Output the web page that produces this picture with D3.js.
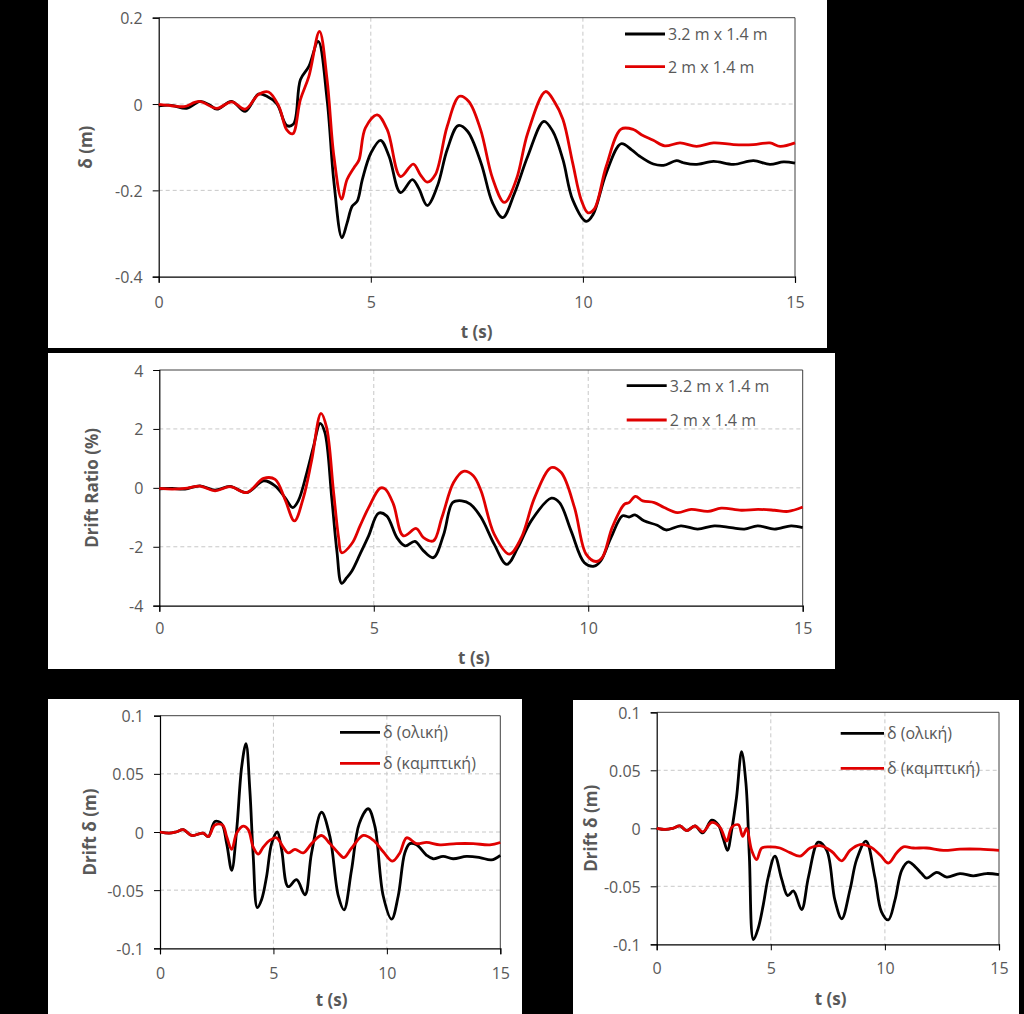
<!DOCTYPE html>
<html><head><meta charset="utf-8">
<script src="https://cdn.jsdelivr.net/npm/d3@7"></script>
<style>
html,body{margin:0;padding:0;background:#000;}
svg{display:block;}
text{font-family:"Open Sans",sans-serif;}
</style></head>
<body>
<svg id="c" width="1024" height="1014"></svg>
<script>
// ---------- DATA ----------
const xTicks = [0, 5, 10, 15];
const xTitle = "t (s)";

// Panel 1: δ (m)
const p1Title = "δ (m)";
const p1Ticks = [0.2, 0, -0.2, -0.4];
const p1Legend = ["3.2 m x 1.4 m", "2 m x 1.4 m"];
const p1BlackT = [0,0.3,0.66,0.98,1.2,1.37,1.72,2.04,2.35,2.55,2.79,3.02,3.18,3.34,3.54,3.76,3.97,4.13,4.32,4.44,4.56,4.68,4.8,5.0,5.23,5.43,5.7,5.98,6.13,6.33,6.57,6.8,7.06,7.28,7.6,7.87,8.11,8.39,8.7,9.08,9.29,9.53,9.76,10.08,10.24,10.55,10.9,11.15,11.34,11.66,11.9,12.21,12.37,12.65,13.08,13.55,14.02,14.41,14.73,15];
const p1BlackV = [-0.004,-0.003,-0.01,0.006,-0.002,-0.012,0.006,-0.017,0.023,0.018,0,-0.05,-0.046,0.056,0.087,0.145,0.01,-0.18,-0.31,-0.276,-0.237,-0.225,-0.175,-0.114,-0.084,-0.121,-0.205,-0.175,-0.195,-0.235,-0.19,-0.106,-0.05,-0.063,-0.137,-0.229,-0.263,-0.206,-0.121,-0.04,-0.063,-0.129,-0.222,-0.272,-0.256,-0.16,-0.092,-0.106,-0.121,-0.139,-0.142,-0.131,-0.136,-0.14,-0.133,-0.14,-0.131,-0.14,-0.134,-0.137];
const p1RedT = [0,0.3,0.6,0.95,1.37,1.72,2.04,2.35,2.59,2.83,3.02,3.16,3.34,3.54,3.79,3.97,4.13,4.31,4.44,4.6,4.72,4.87,5.15,5.39,5.7,6.0,6.17,6.33,6.52,6.8,7.09,7.31,7.59,7.87,8.15,8.43,8.7,9.12,9.33,9.53,9.76,9.96,10.12,10.27,10.55,10.9,11.19,11.38,11.66,11.93,12.29,12.68,13.08,13.55,14.02,14.41,14.65,15];
const p1RedV = [-0.001,-0.004,-0.006,0.006,-0.01,0.005,-0.012,0.022,0.028,-0.005,-0.06,-0.069,0.01,0.064,0.168,0.056,-0.121,-0.22,-0.175,-0.148,-0.13,-0.056,-0.025,-0.06,-0.168,-0.139,-0.164,-0.181,-0.164,-0.052,0.018,0.006,-0.06,-0.172,-0.228,-0.175,-0.067,0.029,0.005,-0.036,-0.137,-0.222,-0.252,-0.243,-0.144,-0.058,-0.059,-0.071,-0.084,-0.097,-0.09,-0.098,-0.09,-0.094,-0.094,-0.09,-0.098,-0.09];

// Panel 2: Drift Ratio (%)
const p2Title = "Drift Ratio (%)";
const p2Ticks = [4, 2, 0, -2, -4];
const p2Legend = ["3.2 m x 1.4 m", "2 m x 1.4 m"];
const p2BlackT = [0,0.3,0.6,0.95,1.3,1.65,2.04,2.43,2.7,2.93,3.11,3.24,3.44,3.59,3.75,3.86,4.02,4.14,4.25,4.37,4.49,4.68,4.88,5.11,5.3,5.54,5.73,5.96,6.16,6.39,6.63,6.84,7.05,7.25,7.5,7.81,8.1,8.36,8.67,9.14,9.33,9.6,9.91,10.14,10.29,10.53,10.8,10.95,11.09,11.3,11.61,11.81,12.16,12.55,12.94,13.33,13.64,13.95,14.34,14.73,15];
const p2BlackV = [-0.03,-0.02,-0.04,0.07,-0.08,0.05,-0.16,0.24,0.07,-0.33,-0.67,-0.44,0.52,1.37,2.19,1.88,-0.33,-2.14,-3.24,-3.05,-2.82,-2.25,-1.63,-0.86,-0.95,-1.69,-1.97,-1.82,-2.14,-2.37,-1.58,-0.5,-0.44,-0.55,-1.0,-1.92,-2.6,-2.03,-1.12,-0.35,-0.5,-1.46,-2.54,-2.66,-2.48,-1.69,-0.95,-0.99,-0.92,-1.12,-1.27,-1.43,-1.29,-1.4,-1.29,-1.35,-1.4,-1.29,-1.4,-1.29,-1.35];
const p2RedT = [0,0.3,0.6,0.95,1.3,1.65,2.04,2.43,2.7,2.93,3.15,3.36,3.55,3.77,3.9,4.06,4.18,4.25,4.49,4.68,4.88,5.15,5.27,5.46,5.69,5.99,6.16,6.39,6.59,6.86,7.09,7.32,7.5,7.81,8.16,8.44,8.75,9.14,9.37,9.68,9.95,10.18,10.33,10.56,10.84,10.95,11.1,11.27,11.54,11.77,12.08,12.4,12.79,13.1,13.57,13.96,14.34,14.66,15];
const p2RedV = [-0.02,-0.04,-0.02,0.06,-0.1,0.04,-0.16,0.32,0.29,-0.39,-1.12,-0.33,0.92,2.53,2.05,-0.1,-1.69,-2.2,-1.89,-1.29,-0.67,-0.01,-0.04,-0.56,-1.63,-1.38,-1.69,-1.8,-1.0,0.18,0.56,0.41,-0.1,-1.58,-2.25,-1.69,-0.33,0.69,0.52,-0.67,-2.25,-2.5,-2.36,-1.34,-0.56,-0.5,-0.29,-0.44,-0.5,-0.67,-0.84,-0.73,-0.8,-0.69,-0.76,-0.73,-0.76,-0.8,-0.65];

// Panel 3: Drift δ (m)
const p3Title = "Drift δ (m)";
const p3Ticks = [0.1, 0.05, 0, -0.05, -0.1];
const p3Legend = ["δ (ολική)", "δ (καμπτική)"];
const p3BlackT = [0,0.4,0.7,1.03,1.4,1.9,2.13,2.42,2.72,2.94,3.16,3.38,3.6,3.79,3.96,4.11,4.29,4.48,4.7,4.92,5.17,5.36,5.65,6.02,6.39,6.68,7.12,7.49,7.86,8.11,8.44,8.78,9.18,9.47,9.84,10.21,10.5,10.79,11.01,11.31,11.75,12.04,12.48,12.92,13.51,14.1,14.61,15];
const p3BlackV = [0,-0.001,0,0.002,-0.003,-0.001,-0.004,0.009,0.007,-0.01,-0.033,0.002,0.056,0.076,0.036,-0.021,-0.065,-0.058,-0.038,-0.01,0,-0.015,-0.047,-0.041,-0.054,-0.018,0.017,-0.004,-0.055,-0.067,-0.033,0.007,0.02,0.005,-0.055,-0.075,-0.055,-0.018,-0.01,-0.011,-0.02,-0.023,-0.021,-0.023,-0.021,-0.022,-0.024,-0.02];
const p3RedT = [0,0.4,0.7,1.03,1.4,1.9,2.13,2.42,2.76,2.94,3.16,3.38,3.67,3.89,4.11,4.33,4.55,4.85,5.14,5.43,5.65,5.95,6.31,6.68,7.12,7.49,7.86,8.11,8.44,8.96,9.4,9.84,10.25,10.57,10.87,11.31,11.75,12.34,13.07,13.8,14.54,15];
const p3RedV = [0,-0.001,0,0.002,-0.003,-0.001,-0.004,0.006,0.006,-0.004,-0.015,-0.001,0.005,0.002,-0.013,-0.019,-0.013,-0.007,-0.005,-0.013,-0.018,-0.015,-0.018,-0.01,-0.003,-0.01,-0.018,-0.022,-0.014,-0.003,-0.007,-0.017,-0.025,-0.018,-0.005,-0.01,-0.009,-0.011,-0.01,-0.01,-0.011,-0.009];

// Panel 4: Drift δ (m)
const p4Title = "Drift δ (m)";
const p4Ticks = [0.1, 0.05, 0, -0.05, -0.1];
const p4Legend = ["δ (ολική)", "δ (καμπτική)"];
const p4BlackT = [0,0.4,0.7,1.02,1.31,1.68,2.02,2.41,2.7,2.92,3.1,3.29,3.5,3.72,3.91,4.06,4.24,4.45,4.67,4.89,5.18,5.48,5.74,5.99,6.35,6.65,7.08,7.45,7.81,8.11,8.47,8.76,9.17,9.56,9.85,10.15,10.44,10.74,11.03,11.32,11.61,11.83,12.27,12.71,13.29,13.87,14.46,15];
const p4BlackV = [0,-0.001,0,0.002,-0.002,0.002,-0.004,0.007,0.003,-0.009,-0.019,-0.001,0.027,0.066,0.039,-0.024,-0.096,-0.086,-0.066,-0.042,-0.024,-0.044,-0.058,-0.054,-0.07,-0.042,-0.012,-0.019,-0.062,-0.078,-0.053,-0.027,-0.011,-0.042,-0.072,-0.079,-0.062,-0.036,-0.029,-0.033,-0.039,-0.043,-0.038,-0.042,-0.039,-0.041,-0.039,-0.04];
const p4RedT = [0,0.4,0.7,1.02,1.31,1.68,2.02,2.41,2.77,3.07,3.29,3.58,3.77,3.94,4.16,4.38,4.6,4.97,5.4,5.84,6.28,6.72,7.16,7.67,8.11,8.47,8.91,9.35,9.79,10.15,10.52,10.81,11.24,11.83,12.56,13.29,14.17,15];
const p4RedV = [0,-0.001,0,0.002,-0.002,0.002,-0.003,0.005,0.001,-0.011,0.001,0.003,-0.007,0,-0.019,-0.027,-0.017,-0.016,-0.017,-0.021,-0.024,-0.017,-0.015,-0.02,-0.028,-0.019,-0.014,-0.016,-0.023,-0.03,-0.021,-0.016,-0.017,-0.017,-0.019,-0.018,-0.018,-0.019];

// ---------- LAYOUT ----------
const fmtPlain = d => d === 0 ? "0" : String(d);
const panels = [
  {box:[48,0,827,348], plot:[158.7,17.7,795,276.7], dom:[-0.4,0.2], ticks:p1Ticks, ytitle:p1Title,
   xlabY:302, xtitle:[476.7,331], ytitleX:85, legend:p1Legend, leg:[625,665,34,66.7],
   series:[[p1BlackT,p1BlackV],[p1RedT,p1RedV]]},
  {box:[48,353,835,669], plot:[159.3,370,802.7,605.7], dom:[-4,4], ticks:p2Ticks, ytitle:p2Title,
   xlabY:628, xtitle:[474,657], ytitleX:91.7, legend:p2Legend, leg:[626.7,666.7,385.7,420],
   series:[[p2BlackT,p2BlackV],[p2RedT,p2RedV]]},
  {box:[48,699,522,1014], plot:[160,715.7,500.3,948.3], dom:[-0.1,0.1], ticks:p3Ticks, ytitle:p3Title,
   xlabY:972.7, xtitle:[331.7,999.3], ytitleX:89.3, legend:p3Legend, leg:[340,380,732.3,763.3],
   series:[[p3BlackT,p3BlackV],[p3RedT,p3RedV]]},
  {box:[573,700,1019,1014], plot:[656.7,712.3,999,944.3], dom:[-0.1,0.1], ticks:p4Ticks, ytitle:p4Title,
   xlabY:967.7, xtitle:[830.7,998.3], ytitleX:590, legend:p4Legend, leg:[840.7,884,733.3,768.3],
   series:[[p4BlackT,p4BlackV],[p4RedT,p4RedV]]}
];
const colors = ["#000000", "#e00000"];
const textCol = "#595959";

const svg = d3.select("#c");
svg.append("rect").attr("width",1024).attr("height",1014).attr("fill","#000");

panels.forEach(p => {
  const g = svg.append("g");
  const [bx0,by0,bx1,by1] = p.box;
  g.append("rect").attr("x",bx0).attr("y",by0).attr("width",bx1-bx0).attr("height",by1-by0).attr("fill","#fff");
  const [px0,py0,px1,py1] = p.plot;
  const x = d3.scaleLinear().domain([0,15]).range([px0,px1]);
  const y = d3.scaleLinear().domain(p.dom).range([py1,py0]);

  // gridlines
  g.selectAll(".hg").data(p.ticks.filter(t=>t!==p.dom[0] && t!==p.dom[1])).join("line")
    .attr("x1",px0).attr("x2",px1).attr("y1",d=>y(d)).attr("y2",d=>y(d))
    .attr("stroke","#c8c8c8").attr("stroke-width",1).attr("stroke-dasharray","4,3");
  g.selectAll(".vg").data(xTicks.filter(t=>t>0 && t<15)).join("line")
    .attr("x1",d=>x(d)).attr("x2",d=>x(d)).attr("y1",py0).attr("y2",py1)
    .attr("stroke","#c8c8c8").attr("stroke-width",1).attr("stroke-dasharray","4,3");

  // plot border (top/right)
  g.append("path").attr("d",`M${px0},${py0}H${px1}V${py1}`).attr("fill","none").attr("stroke","#404040").attr("stroke-width",1);

  // axes
  const ya = d3.axisLeft(y).tickValues(p.ticks).tickSize(6).tickPadding(10).tickFormat(fmtPlain);
  const yg = g.append("g").attr("transform",`translate(${px0},0)`).call(ya);
  const xa = d3.axisBottom(x).tickValues(xTicks).tickSize(6).tickPadding(0).tickFormat(fmtPlain);
  const xg = g.append("g").attr("transform",`translate(0,${py1})`).call(xa);
  [yg,xg].forEach(a=>{
    a.select(".domain").attr("stroke","#000").attr("stroke-width",1.2);
    a.selectAll(".tick line").attr("stroke","#000");
    a.selectAll(".tick text").attr("fill",textCol).style("font-size","16px").style("font-family","'Open Sans',sans-serif");
  });
  xg.selectAll(".tick text").attr("y",0).attr("dy",null)
    .attr("transform",`translate(0,${p.xlabY-py1})`).attr("dominant-baseline","central");
  yg.selectAll(".tick text").attr("dy",null).attr("dominant-baseline","central");

  // series
  const line = d3.line().x(d=>x(d[0])).y(d=>y(d[1])).curve(d3.curveCatmullRom.alpha(0.5));
  p.series.forEach((s,i)=>{
    const pts = s[0].map((t,k)=>[t,s[1][k]]);
    g.append("path").datum(pts).attr("d",line).attr("fill","none")
      .attr("stroke",colors[i]).attr("stroke-width",2.8).attr("stroke-linejoin","round");
  });

  // titles
  g.append("text").attr("x",p.xtitle[0]).attr("y",p.xtitle[1]).attr("text-anchor","middle")
    .attr("dominant-baseline","central").attr("fill",textCol).style("font-size","17px").style("font-weight","bold").text(xTitle);
  const cy = (py0+py1)/2;
  g.append("text").attr("transform",`translate(${p.ytitleX},${cy}) rotate(-90)`).attr("text-anchor","middle")
    .attr("dominant-baseline","central").attr("fill",textCol).style("font-size","17px").style("font-weight","bold").text(p.ytitle);

  // legend
  const [lx0,lx1,ly0,ly1] = p.leg;
  [ly0,ly1].forEach((ly,i)=>{
    g.append("line").attr("x1",lx0).attr("x2",lx1).attr("y1",ly).attr("y2",ly).attr("stroke",colors[i]).attr("stroke-width",2.8);
    g.append("text").attr("x",lx1+3).attr("y",ly).attr("dominant-baseline","central").attr("fill",textCol)
      .style("font-size","16px").text(p.legend[i]);
  });
});
</script>
</body></html>
